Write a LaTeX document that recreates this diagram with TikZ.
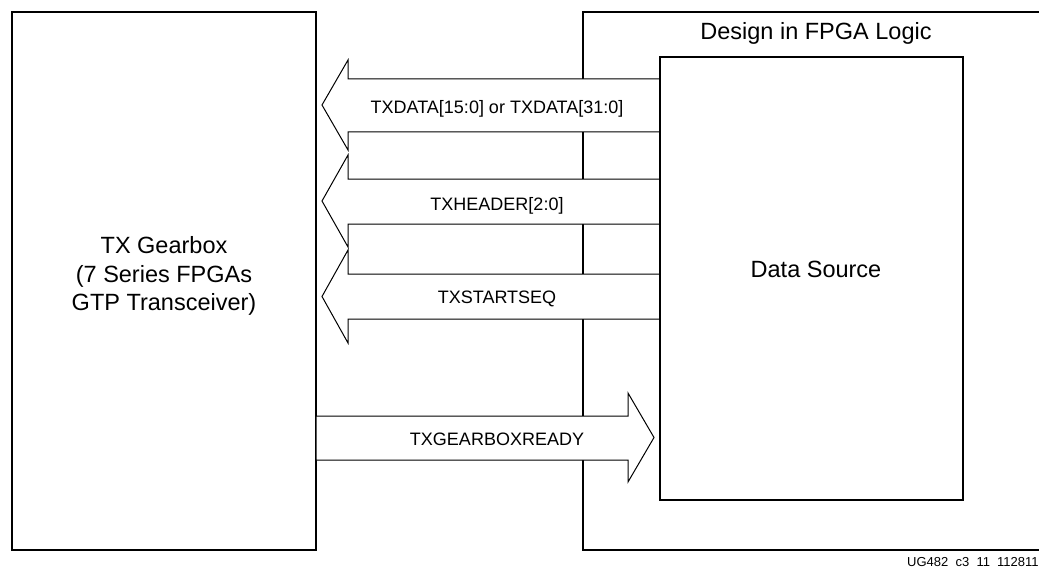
\documentclass[tikz,border=0pt]{standalone}
\usepackage{fontspec}
\setmainfont{Liberation Sans}
\begin{document}
\begin{tikzpicture}[x=1pt,y=-1pt,
  box/.style={draw=black, line width=2pt, fill=none, inner sep=0pt},
  blockarrow/.style={draw=black, line width=1pt, fill=white, line join=miter},
  big/.style={font=\fontsize{23.5}{28.5}\selectfont, text=black, inner sep=0pt},
  sig/.style={font=\fontsize{18}{21}\selectfont, text=black, inner sep=0pt},
]
\clip (0,0) rectangle (1039,567);
% TX Gearbox block
\node[box, minimum width=304pt, minimum height=538pt] (gear) at (164,281) {};
\node[big, align=center] (gearlbl) at (164,276) {TX Gearbox\\(7 Series FPGAs\\GTP Transceiver)};
% Design in FPGA Logic region (right side runs off the picture)
\coordinate (fpgatl) at (583,12);
\coordinate (fpgabl) at (583,550);
\draw[line width=2pt] (1045,12) -- (fpgatl) -- (fpgabl) -- (1045,550);
\node[big, anchor=base] (fpgalbl) at (816,40) {Design in FPGA Logic};
% block arrows
\draw[blockarrow] (322,105) -- (348,60) -- (348,79) -- (660,79) -- (660,132) -- (348,132) -- (348,150) -- cycle;
\node[sig, anchor=base] (txdata) at (497,114) {TXDATA[15:0] or TXDATA[31:0]};
\draw[blockarrow] (322,201) -- (348,155) -- (348,179) -- (660,179) -- (660,224) -- (348,224) -- (348,247) -- cycle;
\node[sig, anchor=base] (txheader) at (497,210) {TXHEADER[2:0]};
\draw[blockarrow] (322,296.5) -- (348,250) -- (348,274) -- (660,274) -- (660,319) -- (348,319) -- (348,343) -- cycle;
\node[sig, anchor=base] (txstart) at (497,303) {TXSTARTSEQ};
\draw[blockarrow] (316,416) -- (628,416) -- (628,393) -- (654,437.5) -- (628,482) -- (628,460) -- (316,460) -- cycle;
\node[sig, anchor=base] (txready) at (497,445) {TXGEARBOXREADY};
% Data Source block
\node[box, minimum width=303pt, minimum height=443pt] (src) at (811.5,278.5) {};
\node[big, anchor=base] (srclbl) at (816,277) {Data Source};
% figure id
\node[font=\fontsize{13}{15}\selectfont, anchor=base west, inner sep=0pt] (figid) at (907,566) {UG482\hspace{7.2pt}c3\hspace{7.2pt}11\hspace{7.2pt}112811};
\end{tikzpicture}
\end{document}
